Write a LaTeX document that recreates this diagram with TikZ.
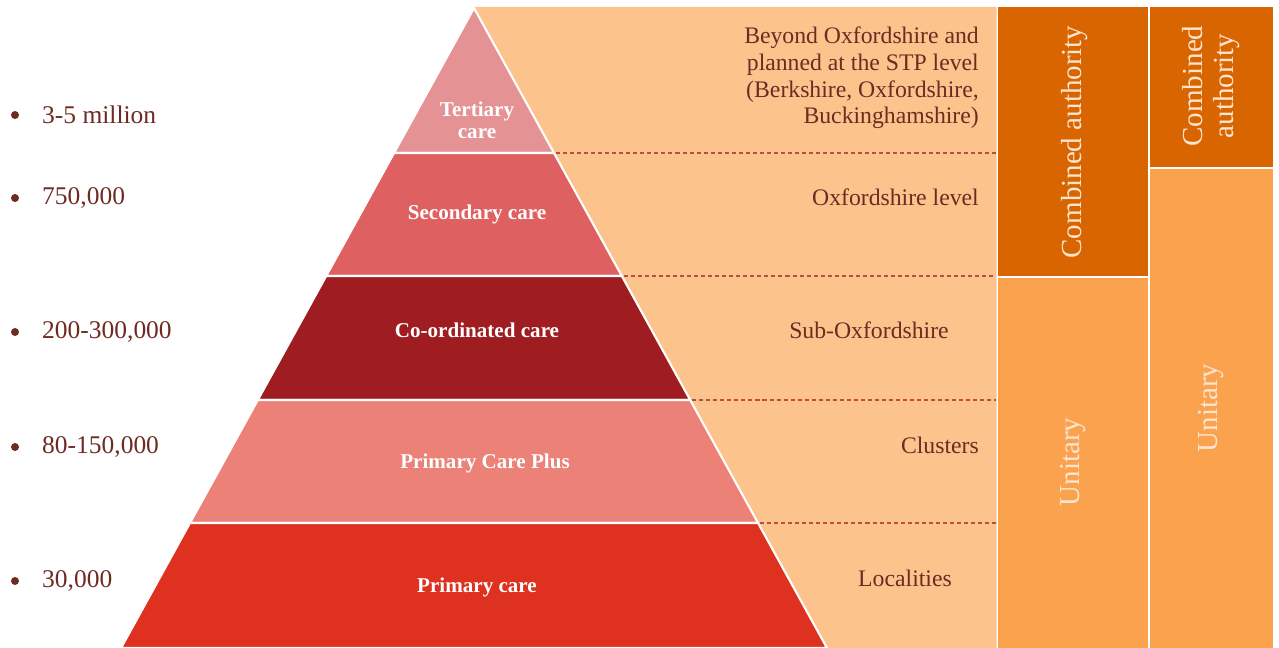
\documentclass[tikz,border=0pt]{standalone}
\usepackage{fontspec}
\setmainfont{Liberation Serif}
\usetikzlibrary{positioning}

\definecolor{tertiary}{HTML}{E59294}
\definecolor{secondary}{HTML}{DF6060}
\definecolor{coord}{HTML}{9F1D20}
\definecolor{plus}{HTML}{EB8177}
\definecolor{primary}{HTML}{DE311F}
\definecolor{peach}{HTML}{FDC38D}
\definecolor{darkor}{HTML}{D96500}
\definecolor{midor}{HTML}{FBA24F}
\definecolor{brownt}{HTML}{6E2B22}
\definecolor{creamt}{HTML}{FCE5CF}
\definecolor{dashc}{HTML}{B84E40}

% pyramid edges (pixel rows -> x)
\newcommand{\pyrleft}[1]{474-0.5515*(#1-8)}
\newcommand{\pyrright}[1]{474+0.5515*(#1-8)}

\begin{document}
\begin{tikzpicture}[x=0.2mm,y=-0.2mm,
  lvltext/.style={text=white,font=\fontsize{12}{12.5}\selectfont\bfseries,align=center},
  sidetext/.style={text=brownt,font=\fontsize{13.5}{15.2}\selectfont},
  poptext/.style={text=brownt,font=\fontsize{14.5}{16}\selectfont,anchor=west},
  coltext/.style={text=creamt,font=\fontsize{16.5}{18}\selectfont,rotate=90,align=center},
  sepline/.style={dashc,line width=0.6pt,dash pattern=on 2.3pt off 1.7pt}]
\useasboundingbox (0,0) rectangle (1279,648);

% background band
\fill[peach] (474,7) -- (996.5,7) -- (996.5,648) -- ({\pyrright{648}},648) -- cycle;

% pyramid
\foreach \ya/\yb/\col in {8/153/tertiary,153/276/secondary,276/400/coord,400/523/plus,523/648/primary}
  \filldraw[fill=\col,draw=white,line width=1.2pt,line join=round]
    ({\pyrleft{\ya}},\ya) -- ({\pyrright{\ya}},\ya) -- ({\pyrright{\yb}},\yb) -- ({\pyrleft{\yb}},\yb) -- cycle;

\foreach \yy in {153,276,400,523}
  \draw[sepline] ({\pyrright{\yy}+2},\yy) -- (996,\yy);

\node[lvltext] (tert) at (477,120) {Tertiary\\care};
\node[lvltext] (sec) at (477,214) {Secondary care};
\node[lvltext] (coo) at (477,330) {Co-ordinated care};
\node[lvltext] (pcp) at (485,463) {Primary Care Plus};
\node[lvltext] (pri) at (477,587) {Primary care};

% geography
\node[sidetext,align=right,anchor=east] (beyond) at (985,78)
  {Beyond Oxfordshire and\\planned at the STP level\\(Berkshire, Oxfordshire,\\Buckinghamshire)};
\node[sidetext,anchor=east] (oxon) at (985,197) {Oxfordshire level};
\node[sidetext] (suboxon) at (869,330) {Sub-Oxfordshire};
\node[sidetext,anchor=east] (clusters) at (985,445) {Clusters};
\node[sidetext] (local) at (905,578) {Localities};

% authority columns
\fill[darkor] (998,7) rectangle (1148,276);
\fill[midor] (998,278) rectangle (1148,648);
\fill[darkor] (1150,7) rectangle (1273,167);
\fill[midor] (1150,169) rectangle (1273,648);
\node[coltext] (comb1) at (1075,142) {Combined authority};
\node[coltext] (unit1) at (1073,462) {Unitary};
\node[coltext] (comb2) at (1211,86) {Combined\\authority};
\node[coltext] (unit2) at (1211,408) {Unitary};

% population
\foreach \yy/\txt in {115/3-5 million,198/750{,}000,332/200-300{,}000,447/80-150{,}000,581/30{,}000}{
  \fill[brownt] (15,\yy) circle (4);
  \node[poptext] at (36,\yy) {\txt};
}
\end{tikzpicture}
\end{document}
